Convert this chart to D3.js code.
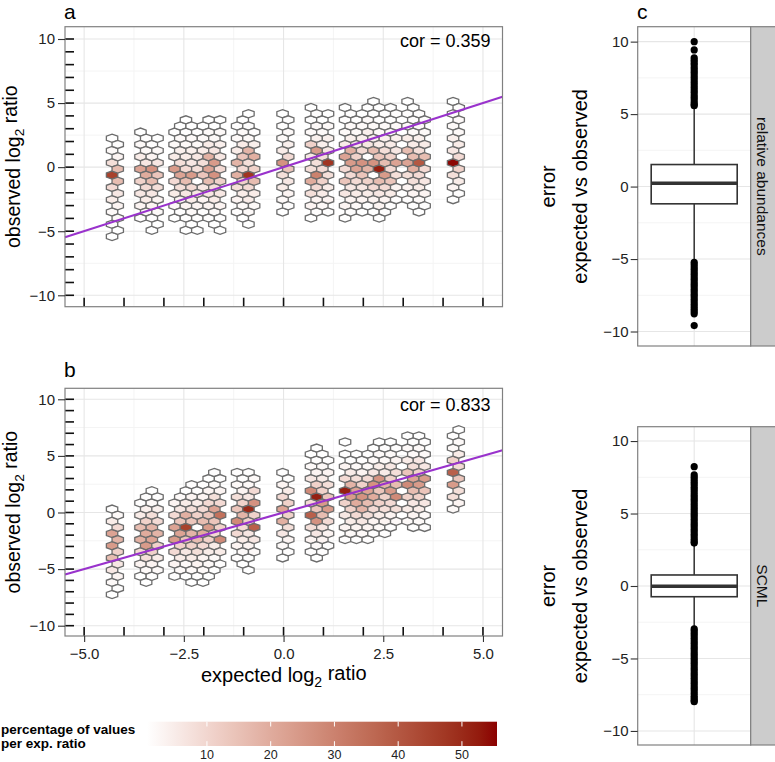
<!DOCTYPE html>
<html>
<head>
<meta charset="utf-8">
<script src="https://cdn.jsdelivr.net/npm/d3@7"></script>
<style>
  body { margin: 0; background: #fff; }
  svg { display: block; font-family: "Liberation Sans", Arial, Helvetica, sans-serif; }
</style>
</head>
<body>
<svg id="chart" width="775" height="762"></svg>
<script>
/* global d3 */

// hex bins: [half-column k, top row n, percentages going down the column (every 2nd row)]
const hexA = [
  [0, 6, [0.5, 2, 8, 45, 9, 5, 2, 1, 0.5]],
  [1, 5, [1, 3, 16, 16, 6, 3, 2, 0.5]],
  [5, 7, [0.5, 2, 5, 22, 11, 6, 3, 1]],
  [6, 6, [1, 2, 6, 20, 9, 5, 2]],
  [7, 5, [1, 3, 26, 16, 6, 3, 1, 0.5]],
  [8, 6, [0.5, 2, 6, 14, 8, 3, 2, 0.5]],
  [11, 7, [1, 2, 5, 24, 9, 5, 2, 0.5]],
  [12, 8, [0.5, 2, 4, 8, 22, 8, 3, 1]],
  [13, 9, [0.5, 1, 2, 5, 9, 16, 6, 3, 1, 0.5]],
  [14, 8, [0.5, 2, 4, 6, 24, 9, 5, 2, 0.5]],
  [15, 7, [1, 2, 6, 8, 1, 6, 3, 1, 0.5]],
  [16, 8, [0.5, 2, 5, 8, 14, 6, 3, 1]],
  [17, 9, [0.5, 2, 5, 19, 22, 16, 6, 3, 1]],
  [18, 8, [0.5, 2, 6, 24, 26, 8, 5, 2, 0.5]],
  [19, 9, [0.5, 2, 4, 6, 9, 11, 6, 3, 1, 0.5]],
  [22, 8, [1, 2, 5, 18, 19, 8, 3, 1]],
  [23, 9, [0.5, 2, 5, 14, 9, 11, 5, 2, 0.5]],
  [24, 10, [0.5, 1, 2, 18, 8, 48, 9, 5, 2, 0.5]],
  [25, 7, [1, 4, 19, 11, 16, 5, 2]],
  [30, 10, [0.5, 1, 2, 5, 26, 8, 5, 2, 0.5]],
  [31, 9, [1, 2, 4, 9, 14, 6, 3, 1]],
  [35, 11, [0.5, 1, 2, 11, 6, 8, 20, 8, 3, 0.5]],
  [36, 10, [1, 2, 4, 24, 8, 30, 9, 3, 1]],
  [37, 9, [0.5, 2, 4, 8, 9, 11, 5, 2]],
  [38, 10, [0.5, 2, 4, 6, 48, 8, 5, 3, 1]],
  [41, 11, [0.5, 1, 2, 5, 22, 9, 14, 6, 3, 0.5]],
  [42, 10, [1, 2, 4, 19, 24, 9, 6, 3, 1]],
  [43, 9, [1, 2, 5, 11, 22, 9, 5, 2]],
  [44, 10, [0.5, 2, 4, 9, 26, 14, 6, 3, 0.5]],
  [45, 11, [0.5, 2, 4, 6, 1, 18, 11, 5, 1]],
  [46, 12, [0.5, 1, 2, 4, 16, 26, 1, 9, 3, 0.5]],
  [47, 11, [0.5, 1, 2, 5, 14, 52, 16, 6, 3, 0.5]],
  [48, 10, [1, 2, 4, 8, 16, 24, 9, 3, 1]],
  [49, 11, [0.5, 1, 2, 5, 11, 9, 14, 5, 1]],
  [50, 10, [1, 2, 4, 6, 22, 8, 3, 1]],
  [52, 12, [0.5, 1, 2, 5, 16, 22, 8, 3, 1]],
  [53, 11, [0.5, 1, 2, 5, 16, 19, 8, 3, 1]],
  [54, 10, [1, 2, 4, 8, 40, 9, 5, 2, 0.5]],
  [55, 9, [1, 2, 5, 16, 9, 6, 3, 1]],
  [60, 12, [0.5, 1, 2, 4, 6, 55, 8, 3, 0.5]],
  [61, 11, [1, 2, 2, 5, 9, 11, 5, 1]]
];

const hexB = [
  [0, 0, [1, 5, 22, 24, 16, 6, 2, 0.5]],
  [1, -1, [2, 9, 18, 11, 6, 3, 1]],
  [5, 1, [1, 5, 16, 19, 9, 3, 0.5]],
  [6, 2, [1, 4, 11, 20, 24, 8, 2, 0.5]],
  [7, 3, [0.5, 2, 8, 18, 22, 11, 3, 1]],
  [8, 2, [1, 4, 9, 18, 11, 5, 2]],
  [11, 1, [3, 9, 22, 24, 9, 3, 1]],
  [12, 2, [2, 6, 14, 22, 11, 5, 2]],
  [13, 3, [1, 5, 19, 45, 14, 6, 2, 0.5]],
  [14, 4, [1, 3, 8, 14, 18, 11, 5, 2, 0.5]],
  [15, 3, [1, 5, 11, 1, 16, 8, 3, 1]],
  [16, 4, [1, 3, 9, 16, 20, 9, 3, 2, 0.5]],
  [17, 5, [0.5, 3, 9, 14, 24, 11, 5, 2, 0.5]],
  [18, 6, [1, 2, 8, 22, 14, 9, 5, 2, 0.5]],
  [19, 5, [1, 3, 9, 34, 11, 28, 5, 1]],
  [22, 6, [1, 2, 8, 14, 28, 9, 3, 1]],
  [23, 5, [1, 3, 11, 18, 9, 5, 2, 0.5]],
  [24, 6, [1, 2, 6, 50, 11, 6, 3, 1, 0.5]],
  [25, 5, [2, 9, 26, 11, 38, 6, 2]],
  [30, 6, [1, 3, 9, 22, 19, 6, 2, 0.5]],
  [31, 5, [1, 5, 11, 11, 8, 3, 1]],
  [35, 9, [0.5, 2, 6, 28, 9, 38, 8, 3, 1]],
  [36, 10, [0.5, 1, 3, 11, 52, 14, 26, 6, 2, 0.5]],
  [37, 9, [0.5, 2, 5, 11, 24, 16, 6, 3, 1]],
  [38, 8, [1, 3, 8, 14, 24, 9, 3, 1]],
  [41, 11, [0.5, 1, 3, 9, 52, 11, 6, 3, 1]],
  [42, 8, [1, 5, 18, 24, 11, 5, 2]],
  [43, 9, [1, 2, 8, 22, 20, 9, 3, 1]],
  [44, 8, [1, 3, 11, 26, 18, 6, 2]],
  [45, 9, [1, 2, 9, 22, 16, 8, 3, 1]],
  [46, 10, [0.5, 2, 6, 26, 20, 9, 3, 1]],
  [47, 11, [0.5, 2, 5, 26, 14, 11, 5, 2]],
  [48, 10, [1, 2, 5, 18, 11, 8, 3, 1]],
  [49, 11, [0.5, 2, 6, 11, 24, 9, 3, 1]],
  [50, 10, [1, 3, 8, 16, 28, 8, 2]],
  [52, 12, [0.5, 2, 5, 14, 28, 11, 5, 2]],
  [53, 11, [1, 2, 8, 22, 16, 6, 3, 1]],
  [54, 12, [0.5, 2, 6, 11, 24, 11, 5, 2]],
  [55, 11, [1, 2, 6, 24, 14, 6, 2, 1]],
  [60, 12, [1, 2, 11, 38, 24, 8, 2]],
  [61, 13, [0.5, 2, 5, 9, 14, 8, 3]]
];

const corLabels = ["cor = 0.359", "cor = 0.833"];
const legendTicks = [10, 20, 30, 40, 50];

// panel c: box stats [q1, median, q3, lower whisker, upper whisker]
const boxNames = ["relative abundances", "SCML"];
const boxStats = [
  [-1.19, 0.23, 1.52, -5.2, 5.55],
  [-0.74, -0.02, 0.76, -2.92, 2.92]
];
const outRelative = [10.0, 9.43, 8.88, 8.72, 8.55, 8.4, 8.21, 8.05, 7.88, 7.7, 7.52, 7.35, 7.18, 7.0, 6.83,
  6.66, 6.5, 6.31, 6.15, 5.98, 5.8, 5.66, 5.58,
  -5.22, -5.38, -5.55, -5.72, -5.9, -6.06, -6.24, -6.4, -6.58, -6.75, -6.92, -7.1, -7.26, -7.44,
  -7.6, -7.78, -7.95, -8.12, -8.3, -8.46, -8.62, -8.78, -9.59];
const outScml = [8.23, 7.66, 7.5, 7.33, 7.16, 7.0, 6.82, 6.65, 6.48, 6.3, 6.14, 5.97, 5.8, 5.62, 5.45, 5.28,
  5.1, 4.94, 4.77, 4.6, 4.42, 4.25, 4.08, 3.9, 3.74, 3.57, 3.4, 3.22, 3.06, 2.96,
  -2.96, -3.1, -3.27, -3.44, -3.62, -3.8, -3.96, -4.14, -4.3, -4.48, -4.66, -4.82, -5.0, -5.17, -5.34,
  -5.52, -5.7, -5.86, -6.04, -6.2, -6.38, -6.56, -6.72, -6.9, -7.07, -7.24, -7.42, -7.6, -7.76, -7.9, -7.98];

// hex grid geometry (data units)
const hexX0 = -4.30;
const hexHalf = 0.1425;
const rowsA = { y0: -0.62, step: 0.479 };
const rowsB = { y0: 0.30, step: 0.539 };

const FG = "#222";
const GRID = "#e6e6e6";
const GRID_MINOR = "#f4f4f4";
const BORDER = "#808080";

const svg = d3.select("#chart");

const colour = d3.scaleSequential(d3.interpolateLab("#ffffff", "#8b0000"))
  .domain([0.6, 55.5]).clamp(true);

const xHex = d3.scaleLinear().domain([-5.48, 5.49]).range([65, 502.5]);

const panels = [
  { cells: hexA, rows: rowsA, tag: "a", tagY: 19, top: 26.7, bottom: 306.7, xAxis: false, cor: corLabels[0], corY: 47,
    y: d3.scaleLinear().domain([-10.89, 10.96]).range([306.7, 26.7]) },
  { cells: hexB, rows: rowsB, tag: "b", tagY: 377, top: 388.3, bottom: 636, xAxis: true, cor: corLabels[1], corY: 410.5,
    y: d3.scaleLinear().domain([-10.91, 10.97]).range([636, 388.3]) }
];

const hexPath = (d, rows, y) => {
  const cx = hexX0 + d.k * hexHalf;
  const cy = rows.y0 + d.n * rows.step;
  const dy = rows.step / Math.sqrt(3) / 2 * 1.15;
  const hw = hexHalf;
  const pts = [[cx + hw, cy + dy], [cx, cy + 2 * dy], [cx - hw, cy + dy],
               [cx - hw, cy - dy], [cx, cy - 2 * dy], [cx + hw, cy - dy]];
  return "M" + pts.map(p => `${xHex(p[0]).toFixed(2)},${y(p[1]).toFixed(2)}`).join("L") + "Z";
};

const styleAxis = (g, size) => {
  g.select(".domain").remove();
  g.selectAll(".tick line").attr("stroke", "#333").attr("stroke-width", 1.1);
  g.selectAll(".tick text").attr("fill", FG).style("font-size", size + "px");
};

const addLog2Title = (sel, word) => {
  sel.append("tspan").text(word + " log");
  sel.append("tspan").attr("font-size", "70%").attr("dy", "0.35em").text("2");
  sel.append("tspan").attr("dy", "-0.35em").text(" ratio");
};

const drawHexPanel = (p) => {
  const g = svg.append("g");
  const [x0, x1] = xHex.range();
  const y = p.y;

  // grid
  [-3.75, -1.25, 1.25, 3.75].forEach(v => g.append("line")
    .attr("x1", xHex(v)).attr("x2", xHex(v)).attr("y1", p.top).attr("y2", p.bottom)
    .attr("stroke", GRID_MINOR).attr("stroke-width", 1));
  [-7.5, -2.5, 2.5, 7.5].forEach(v => g.append("line")
    .attr("x1", x0).attr("x2", x1).attr("y1", y(v)).attr("y2", y(v))
    .attr("stroke", GRID_MINOR).attr("stroke-width", 1));
  [-5, -2.5, 0, 2.5, 5].forEach(v => g.append("line")
    .attr("x1", xHex(v)).attr("x2", xHex(v)).attr("y1", p.top).attr("y2", p.bottom)
    .attr("stroke", GRID).attr("stroke-width", 1.1));
  [-10, -5, 0, 5, 10].forEach(v => g.append("line")
    .attr("x1", x0).attr("x2", x1).attr("y1", y(v)).attr("y2", y(v))
    .attr("stroke", GRID).attr("stroke-width", 1.1));

  // hexagons
  const cells = p.cells.flatMap(([k, nTop, vals]) => vals.map((v, i) => ({ k, n: nTop - 2 * i, v })));
  g.append("g")
    .selectAll("path")
    .data(cells)
    .join("path")
      .attr("d", d => hexPath(d, p.rows, y))
      .attr("fill", d => colour(d.v))
      .attr("stroke", "#6c6c6c")
      .attr("stroke-width", 1.3);

  // identity line
  const lo = xHex.domain()[0], hi = xHex.domain()[1];
  g.append("line")
    .attr("x1", xHex(lo)).attr("y1", y(lo)).attr("x2", xHex(hi)).attr("y2", y(hi))
    .attr("stroke", "#9932cc").attr("stroke-width", 2.1);

  // inner tick rug
  d3.range(-10, 11).forEach(v => g.append("line")
    .attr("x1", x0).attr("x2", x0 + 9).attr("y1", y(v)).attr("y2", y(v))
    .attr("stroke", "#111").attr("stroke-width", 1.6));
  d3.range(-5, 6).forEach(v => g.append("line")
    .attr("x1", xHex(v)).attr("x2", xHex(v)).attr("y1", p.bottom).attr("y2", p.bottom - 9)
    .attr("stroke", "#111").attr("stroke-width", 1.6));

  g.append("rect")
    .attr("x", x0).attr("y", p.top).attr("width", x1 - x0).attr("height", p.bottom - p.top)
    .attr("fill", "none").attr("stroke", BORDER).attr("stroke-width", 1.2);

  g.append("g")
    .attr("transform", `translate(${x0},0)`)
    .call(d3.axisLeft(y).tickValues([-10, -5, 0, 5, 10]).tickSize(7).tickPadding(3))
    .call(styleAxis, 15);

  if (p.xAxis) {
    g.append("g")
      .attr("transform", `translate(0,${p.bottom})`)
      .call(d3.axisBottom(xHex).tickValues([-5, -2.5, 0, 2.5, 5]).tickFormat(d3.format(".1f"))
        .tickSize(6).tickPadding(6))
      .call(styleAxis, 15);
    g.append("text")
      .attr("x", (x0 + x1) / 2).attr("y", 682)
      .attr("text-anchor", "middle").attr("fill", "#000").style("font-size", "20px")
      .call(addLog2Title, "expected");
  }

  g.append("text")
    .attr("transform", `translate(19.5,${(p.top + p.bottom) / 2}) rotate(-90)`)
    .attr("text-anchor", "middle").attr("fill", "#000").style("font-size", "19.5px")
    .call(addLog2Title, "observed");

  g.append("text")
    .attr("x", 490.5).attr("y", p.corY)
    .attr("text-anchor", "end").attr("fill", "#000").style("font-size", "18px")
    .text(p.cor);

  g.append("text")
    .attr("x", 64).attr("y", p.tagY)
    .attr("fill", "#000").style("font-size", "21px")
    .text(p.tag);
};

panels.forEach(drawHexPanel);

// ---------------- panel c ----------------
const boxPanels = [
  { top: 26.7, bottom: 346, y: d3.scaleLinear().domain([-11, 11.03]).range([346, 26.7]), out: outRelative },
  { top: 426.7, bottom: 745, y: d3.scaleLinear().domain([-10.97, 10.99]).range([745, 426.7]), out: outScml }
];
const bx0 = 637.7, bx1 = 750.7, stripW = 25;
const xBox = d3.scalePoint().domain(["box"]).range([bx0, bx1]).padding(0.5);
const boxHalf = 43;

boxPanels.forEach((bp, i) => {
  const g = svg.append("g");
  const y = bp.y;
  const cx = xBox("box");
  const [q1, med, q3, wLo, wHi] = boxStats[i];

  [-7.5, -2.5, 2.5, 7.5].forEach(v => g.append("line")
    .attr("x1", bx0).attr("x2", bx1).attr("y1", y(v)).attr("y2", y(v))
    .attr("stroke", GRID_MINOR));
  [-10, -5, 0, 5, 10].forEach(v => g.append("line")
    .attr("x1", bx0).attr("x2", bx1).attr("y1", y(v)).attr("y2", y(v))
    .attr("stroke", GRID).attr("stroke-width", 1.1));
  g.append("line").attr("x1", cx).attr("x2", cx).attr("y1", bp.top).attr("y2", bp.bottom)
    .attr("stroke", GRID).attr("stroke-width", 1.1);

  g.append("line").attr("x1", cx).attr("x2", cx).attr("y1", y(q3)).attr("y2", y(wHi))
    .attr("stroke", "#333").attr("stroke-width", 1.5);
  g.append("line").attr("x1", cx).attr("x2", cx).attr("y1", y(q1)).attr("y2", y(wLo))
    .attr("stroke", "#333").attr("stroke-width", 1.5);

  g.append("g").selectAll("circle")
    .data(bp.out)
    .join("circle")
      .attr("cx", cx).attr("cy", d => y(d)).attr("r", 3.6)
      .attr("fill", "#000");

  g.append("rect")
    .attr("x", cx - boxHalf).attr("y", y(q3)).attr("width", 2 * boxHalf).attr("height", y(q1) - y(q3))
    .attr("fill", "#fff").attr("stroke", "#333").attr("stroke-width", 1.6);
  g.append("line").attr("x1", cx - boxHalf).attr("x2", cx + boxHalf).attr("y1", y(med)).attr("y2", y(med))
    .attr("stroke", "#333").attr("stroke-width", 3.4);

  g.append("rect")
    .attr("x", bx0).attr("y", bp.top).attr("width", bx1 - bx0).attr("height", bp.bottom - bp.top)
    .attr("fill", "none").attr("stroke", BORDER).attr("stroke-width", 1.2);

  // strip
  g.append("rect")
    .attr("x", bx1).attr("y", bp.top).attr("width", stripW).attr("height", bp.bottom - bp.top)
    .attr("fill", "#cccccc").attr("stroke", BORDER).attr("stroke-width", 1.2);
  g.append("text")
    .attr("transform", `translate(757,${(bp.top + bp.bottom) / 2}) rotate(90)`)
    .attr("text-anchor", "middle").attr("fill", "#111").style("font-size", "15.5px")
    .text(boxNames[i]);

  g.append("g")
    .attr("transform", `translate(${bx0},0)`)
    .call(d3.axisLeft(y).tickValues([-10, -5, 0, 5, 10]).tickSize(7).tickPadding(2))
    .call(styleAxis, 15);

  const mid = (bp.top + bp.bottom) / 2;
  g.append("text")
    .attr("transform", `translate(555,${mid}) rotate(-90)`)
    .attr("text-anchor", "middle").attr("fill", "#000").style("font-size", "20px")
    .text("error");
  g.append("text")
    .attr("transform", `translate(587,${mid}) rotate(-90)`)
    .attr("text-anchor", "middle").attr("fill", "#000").style("font-size", "20px")
    .text("expected vs observed");
});

svg.append("text").attr("x", 637).attr("y", 19)
  .attr("fill", "#000").style("font-size", "21px").text("c");

// ---------------- legend ----------------
const legX = d3.scaleLinear().domain([0.6, 55.5]).range([147, 497]);
const defs = svg.append("defs");
const grad = defs.append("linearGradient").attr("id", "legGrad");
d3.range(0, 1.0001, 0.05).forEach(t => grad.append("stop")
  .attr("offset", t)
  .attr("stop-color", colour(legX.invert(147 + t * 350))));

const leg = svg.append("g");
leg.append("rect").attr("x", 147).attr("y", 721.7).attr("width", 350).attr("height", 24.3)
  .attr("fill", "url(#legGrad)");
legendTicks.forEach(v => {
  leg.append("line").attr("x1", legX(v)).attr("x2", legX(v)).attr("y1", 721.7).attr("y2", 726.5)
    .attr("stroke", "#fff").attr("stroke-width", 1);
  leg.append("line").attr("x1", legX(v)).attr("x2", legX(v)).attr("y1", 741.2).attr("y2", 746)
    .attr("stroke", "#fff").attr("stroke-width", 1);
  leg.append("text").attr("x", legX(v)).attr("y", 759)
    .attr("text-anchor", "middle").attr("fill", FG).style("font-size", "12.5px").text(v);
});
leg.append("text").attr("x", 1).attr("y", 733.5)
  .attr("font-weight", "bold").attr("fill", "#000").style("font-size", "13.5px")
  .text("percentage of values");
leg.append("text").attr("x", 1).attr("y", 748)
  .attr("font-weight", "bold").attr("fill", "#000").style("font-size", "13.5px")
  .text("per exp. ratio");
</script>
</body>
</html>
